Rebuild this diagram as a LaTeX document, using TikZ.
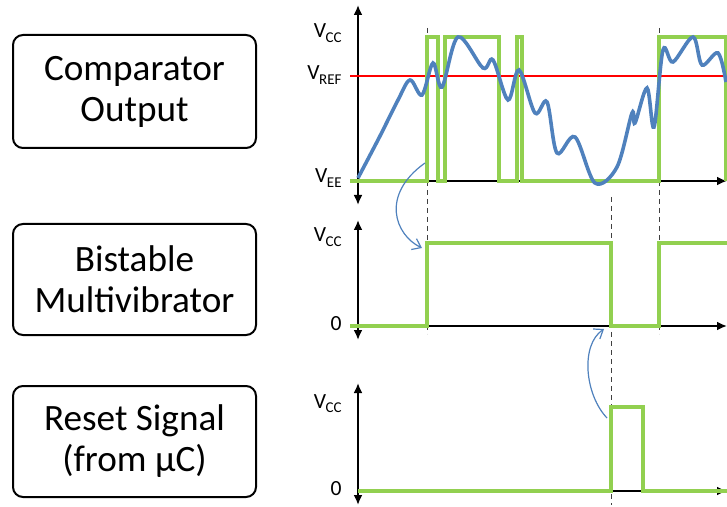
\documentclass[tikz,border=0pt]{standalone}
\usepackage{fontspec}
\setmainfont{Carlito}
\usetikzlibrary{arrows.meta, positioning}

\definecolor{sigGreen}{RGB}{146,208,80}
\definecolor{sigBlue}{RGB}{79,129,189}
\newcommand{\volt}[1]{V\kern-0.2pt\raisebox{-0.45ex}{\fontsize{7.5}{8}\selectfont #1}}

\begin{document}
\begin{tikzpicture}[
    x=0.5pt, y=-0.5pt,
    block/.style={draw, rounded corners=5pt, line width=1pt, minimum width=121.5pt, minimum height=55.5pt, align=center, font=\fontsize{18.6}{20.5}\selectfont},
    level/.style={anchor=base east, inner sep=0pt, font=\fontsize{10.8}{12}\selectfont},
    axis/.style={line width=1pt, -{Latex[length=5pt, width=4.5pt]}},
    axes2/.style={line width=1pt, {Latex[length=5pt, width=4.5pt]}-{Latex[length=5pt, width=4.5pt]}},
    marker/.style={dash pattern=on 2.5pt off 2pt, line width=0.5pt, black!75},
    wave/.style={sigGreen, line width=1.6pt},
    hint/.style={sigBlue, line width=0.6pt, -{Straight Barb[length=4pt, width=6pt]}}
]
    \useasboundingbox (0,0) rectangle (727,507);

    % blocks on the left
    \node[block, minimum height=56.5pt] (cmp) at (134.5,91.5) {Comparator\\Output};
    \node[block, below=37pt of cmp] (bist) {Bistable\\Multivibrator};
    \node[block, below=24.5pt of bist] (rst) {Reset Signal\\(from µC)};

    % levels
    \node[level] (vcc1) at (342,38) {\volt{CC}};
    \node[level] (vref) at (342,80) {\volt{REF}};
    \node[level] (vee) at (342,183) {\volt{EE}};
    \node[level] (vcc2) at (342,242) {\volt{CC}};
    \node[level] (zero2) at (342,330) {0};
    \node[level] (vcc3) at (342,408) {\volt{CC}};
    \node[level] (zero3) at (342,495) {0};

    % time markers
    \draw[marker] (427,28) -- (427,334);
    \draw[marker] (611,197) -- (611,505);
    \draw[marker] (659,28) -- (659,334);

    % axes
    \draw[axes2] (358,5) -- (358,205);
    \draw[axis] (358,181) -- (727,181);
    \draw[axes2] (358,220) -- (358,340);
    \draw[axis] (358,326) -- (727,326);
    \draw[axes2] (358,383) -- (358,505);
    \draw[axis] (358,491) -- (727,491);

    \draw[red, line width=1pt] (350,76) -- (727,76);

    % waveforms
    \draw[wave] (350,181) -- (427,181) -- (427,37) -- (438,37) -- (438,181) -- (445,181)
        -- (445,37) -- (499,37) -- (499,181) -- (517,181) -- (517,37) -- (522,37)
        -- (522,181) -- (659,181) -- (659,37) -- (726,37) -- (726,181);
    \draw[sigBlue, line width=1.8pt] plot[smooth, tension=0.55] coordinates {
        (358,178) (380,136) (398,100) (410,80) (422,95) (433,63) (442,87) (458,37)
        (483,68) (493,60) (508,100) (519,70) (535,113) (547,102) (557,153) (575,137)
        (595,183) (617,167) (632,113) (635,123) (647,88) (654,127) (663,50) (673,62)
        (693,37) (702,65) (718,53) (726,82)};
    \draw[wave] (350,326) -- (427,326) -- (427,243) -- (611,243) -- (611,326)
        -- (659,326) -- (659,243) -- (727,243);
    \draw[wave] (358,491) -- (611,491) -- (611,407) -- (643,407) -- (643,491) -- (727,491);

    % cause and effect
    \coordinate (h1s) at (425,163);
    \coordinate (h1e) at (422,248);
    \coordinate (h2s) at (607,418);
    \coordinate (h2e) at (604,329);
    \draw[hint] (h1s) .. controls (380,195) and (395,235) .. (h1e);
    \draw[hint] (h2s) .. controls (585,395) and (580,345) .. (h2e);
\end{tikzpicture}
\end{document}
